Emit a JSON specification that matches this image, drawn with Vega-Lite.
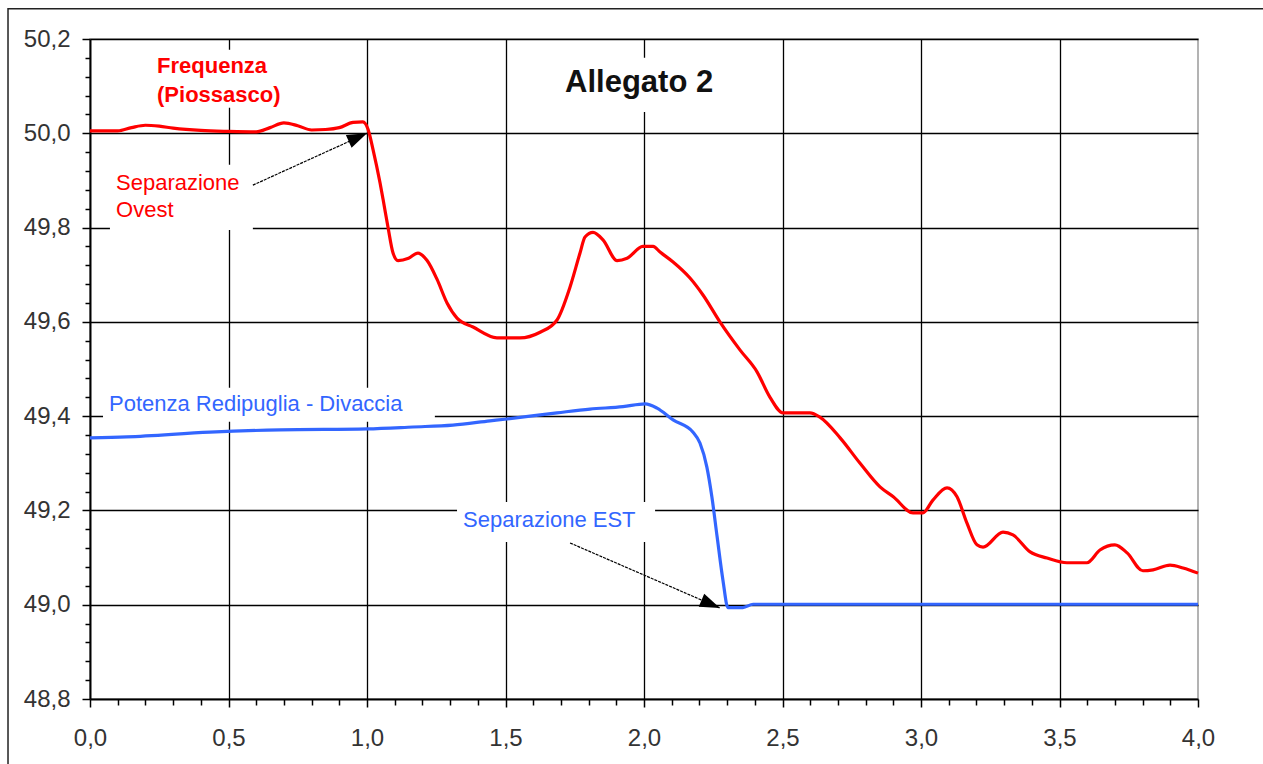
{
  "$schema": "https://vega.github.io/schema/vega-lite/v6.json",
  "width": 1108,
  "height": 660,
  "autosize": {"type": "none"},
  "padding": {"left": 90, "top": 39, "right": 65, "bottom": 65},
  "background": "white",
  "config": {
    "font": "Liberation Sans",
    "view": {"stroke": "#9a9a9a", "strokeWidth": 1.5},
    "axis": {
      "title": null,
      "labelFont": "Liberation Sans",
      "labelFontSize": 24,
      "labelColor": "#333333",
      "tickColor": "#000000",
      "domainColor": "#000000",
      "gridColor": "#000000",
      "gridWidth": 1.3,
      "gridOpacity": 1,
      "labelFlush": false,
      "labelOverlap": false,
      "labelBound": false
    }
  },
  "resolve": {"axis": {"x": "independent", "y": "independent"}},
  "layer": [
    {
      "data": {"values": [{"x": -0.296, "x2": 4.4, "y": 50.264, "y2": 48.649}]},
      "mark": {"type": "rect", "filled": false, "stroke": "#222222", "strokeWidth": 1.5},
      "encoding": {
        "x": {"field": "x", "type": "quantitative", "axis": null, "scale": {"domain": [0, 4], "nice": false, "zero": false}},
        "x2": {"field": "x2"},
        "y": {"field": "y", "type": "quantitative", "axis": null, "scale": {"domain": [48.8, 50.2], "nice": false, "zero": false}},
        "y2": {"field": "y2"}
      }
    },
    {
      "data": {"values": [
        {"note": "Frequenza", "x": 0.2, "x2": 0.68, "y": 50.177, "y2": 50.054},
        {"note": "Allegato", "x": 1.679, "x2": 2.274, "y": 50.16, "y2": 50.045},
        {"note": "Ovest", "x": 0.072, "x2": 0.588, "y": 49.933, "y2": 49.795},
        {"note": "Potenza", "x": 0.047, "x2": 1.245, "y": 49.46, "y2": 49.388},
        {"note": "EST", "x": 1.325, "x2": 2.04, "y": 49.218, "y2": 49.133}
      ]},
      "mark": {"type": "rect", "fill": "white", "stroke": null},
      "encoding": {
        "x": {"field": "x", "type": "quantitative",
          "scale": {"domain": [0, 4], "nice": false, "zero": false},
          "axis": {"orient": "bottom", "values": [0.5, 1, 1.5, 2, 2.5, 3, 3.5], "grid": true, "ticks": false, "labels": false, "domain": false}},
        "x2": {"field": "x2"},
        "y": {"field": "y", "type": "quantitative",
          "scale": {"domain": [48.8, 50.2], "nice": false, "zero": false},
          "axis": {"orient": "left", "values": [49.0, 49.2, 49.4, 49.6, 49.8, 50.0, 50.2], "grid": true, "ticks": false, "labels": false, "domain": false}},
        "y2": {"field": "y2"}
      }
    },
    {
      "data": {"values": [
        {"t": 0.0, "v": 49.354}, {"t": 0.133, "v": 49.356}, {"t": 0.433, "v": 49.366},
        {"t": 0.686, "v": 49.371}, {"t": 1.0, "v": 49.373}, {"t": 1.166, "v": 49.377},
        {"t": 1.31, "v": 49.381}, {"t": 1.444, "v": 49.39}, {"t": 1.505, "v": 49.394},
        {"t": 1.686, "v": 49.407}, {"t": 1.805, "v": 49.415}, {"t": 1.924, "v": 49.42},
        {"t": 2.004, "v": 49.426}, {"t": 2.047, "v": 49.417}, {"t": 2.105, "v": 49.392},
        {"t": 2.177, "v": 49.366}, {"t": 2.202, "v": 49.343}, {"t": 2.227, "v": 49.292},
        {"t": 2.245, "v": 49.229}, {"t": 2.264, "v": 49.144}, {"t": 2.285, "v": 49.052},
        {"t": 2.303, "v": 48.994}, {"t": 2.357, "v": 48.994}, {"t": 2.394, "v": 49.001},
        {"t": 3.0, "v": 49.001}, {"t": 4.0, "v": 49.001}
      ]},
      "mark": {"type": "line", "color": "#3366ff", "strokeWidth": 3.2, "interpolate": "monotone"},
      "encoding": {
        "x": {"field": "t", "type": "quantitative",
          "scale": {"domain": [0, 4], "nice": false, "zero": false},
          "axis": {"orient": "bottom", "values": [0, 0.5, 1, 1.5, 2, 2.5, 3, 3.5, 4],
            "labelExpr": "replace(format(datum.value, '.1f'), '.', ',')",
            "grid": false, "tickSize": 8, "tickWidth": 1.5, "labelPadding": 19, "domain": true, "domainWidth": 2}},
        "y": {"field": "v", "type": "quantitative",
          "scale": {"domain": [48.8, 50.2], "nice": false, "zero": false},
          "axis": {"orient": "left", "values": [48.8, 49.0, 49.2, 49.4, 49.6, 49.8, 50.0, 50.2],
            "labelExpr": "replace(format(datum.value, '.1f'), '.', ',')",
            "grid": false, "tickSize": 8, "tickWidth": 1.5, "labelPadding": 12, "domain": true, "domainWidth": 2}}
      }
    },
    {
      "data": {"values": [
        {"t": 0.0, "v": 50.005}, {"t": 0.1, "v": 50.005}, {"t": 0.15, "v": 50.012},
        {"t": 0.2, "v": 50.017}, {"t": 0.25, "v": 50.015}, {"t": 0.3, "v": 50.011},
        {"t": 0.4, "v": 50.006}, {"t": 0.5, "v": 50.004}, {"t": 0.6, "v": 50.003},
        {"t": 0.65, "v": 50.012}, {"t": 0.7, "v": 50.022}, {"t": 0.75, "v": 50.016},
        {"t": 0.8, "v": 50.007}, {"t": 0.85, "v": 50.008}, {"t": 0.9, "v": 50.012},
        {"t": 0.95, "v": 50.023}, {"t": 0.985, "v": 50.024}, {"t": 1.004, "v": 50.008},
        {"t": 1.022, "v": 49.965}, {"t": 1.047, "v": 49.895}, {"t": 1.058, "v": 49.86},
        {"t": 1.076, "v": 49.8}, {"t": 1.094, "v": 49.746}, {"t": 1.112, "v": 49.73},
        {"t": 1.15, "v": 49.735}, {"t": 1.184, "v": 49.746}, {"t": 1.217, "v": 49.73},
        {"t": 1.253, "v": 49.69}, {"t": 1.289, "v": 49.64}, {"t": 1.325, "v": 49.608},
        {"t": 1.383, "v": 49.589}, {"t": 1.469, "v": 49.566}, {"t": 1.552, "v": 49.566},
        {"t": 1.625, "v": 49.578}, {"t": 1.686, "v": 49.604}, {"t": 1.733, "v": 49.674},
        {"t": 1.769, "v": 49.746}, {"t": 1.787, "v": 49.78}, {"t": 1.816, "v": 49.79},
        {"t": 1.852, "v": 49.774}, {"t": 1.903, "v": 49.73}, {"t": 1.939, "v": 49.735},
        {"t": 1.996, "v": 49.76}, {"t": 2.033, "v": 49.76}, {"t": 2.058, "v": 49.748},
        {"t": 2.105, "v": 49.727}, {"t": 2.166, "v": 49.693}, {"t": 2.213, "v": 49.657},
        {"t": 2.274, "v": 49.6}, {"t": 2.347, "v": 49.54}, {"t": 2.408, "v": 49.494},
        {"t": 2.455, "v": 49.44}, {"t": 2.502, "v": 49.407}, {"t": 2.552, "v": 49.407},
        {"t": 2.599, "v": 49.407}, {"t": 2.635, "v": 49.398}, {"t": 2.708, "v": 49.354},
        {"t": 2.78, "v": 49.3}, {"t": 2.852, "v": 49.25}, {"t": 2.9, "v": 49.229},
        {"t": 2.971, "v": 49.195}, {"t": 3.007, "v": 49.195}, {"t": 3.043, "v": 49.222},
        {"t": 3.094, "v": 49.248}, {"t": 3.13, "v": 49.229}, {"t": 3.166, "v": 49.173},
        {"t": 3.202, "v": 49.127}, {"t": 3.224, "v": 49.122}, {"t": 3.296, "v": 49.154},
        {"t": 3.332, "v": 49.148}, {"t": 3.394, "v": 49.112}, {"t": 3.455, "v": 49.099},
        {"t": 3.527, "v": 49.089}, {"t": 3.599, "v": 49.089}, {"t": 3.646, "v": 49.116},
        {"t": 3.7, "v": 49.127}, {"t": 3.744, "v": 49.11}, {"t": 3.801, "v": 49.072},
        {"t": 3.838, "v": 49.074}, {"t": 3.899, "v": 49.084}, {"t": 3.946, "v": 49.078},
        {"t": 4.0, "v": 49.067}
      ]},
      "mark": {"type": "line", "color": "#ff0000", "strokeWidth": 3.2, "interpolate": "monotone"},
      "encoding": {
        "x": {"field": "t", "type": "quantitative",
          "scale": {"domain": [0, 4], "nice": false, "zero": false},
          "axis": {"orient": "bottom",
            "values": [0.1, 0.2, 0.3, 0.4, 0.6, 0.7, 0.8, 0.9, 1.1, 1.2, 1.3, 1.4, 1.6, 1.7, 1.8, 1.9, 2.1, 2.2, 2.3, 2.4, 2.6, 2.7, 2.8, 2.9, 3.1, 3.2, 3.3, 3.4, 3.6, 3.7, 3.8, 3.9],
            "grid": false, "labels": false, "domain": false, "tickSize": 6, "tickWidth": 1.5}},
        "y": {"field": "v", "type": "quantitative",
          "scale": {"domain": [48.8, 50.2], "nice": false, "zero": false},
          "axis": {"orient": "left",
            "values": [48.84, 48.88, 48.92, 48.96, 49.04, 49.08, 49.12, 49.16, 49.24, 49.28, 49.32, 49.36, 49.44, 49.48, 49.52, 49.56, 49.64, 49.68, 49.72, 49.76, 49.84, 49.88, 49.92, 49.96, 50.04, 50.08, 50.12, 50.16],
            "grid": false, "labels": false, "domain": false, "tickSize": 5, "tickWidth": 1.5}}
      }
    },
    {
      "data": {"values": [
        {"x": 0.242, "y": 50.128, "label": "Frequenza"},
        {"x": 0.242, "y": 50.067, "label": "(Piossasco)"}
      ]},
      "mark": {"type": "text", "align": "left", "baseline": "alphabetic", "font": "Liberation Sans", "fontSize": 22, "fontWeight": "bold", "color": "#ff0000"},
      "encoding": {
        "x": {"field": "x", "type": "quantitative", "axis": null, "scale": {"domain": [0, 4], "nice": false, "zero": false}},
        "y": {"field": "y", "type": "quantitative", "axis": null, "scale": {"domain": [48.8, 50.2], "nice": false, "zero": false}},
        "text": {"field": "label"}
      }
    },
    {
      "data": {"values": [
        {"x": 0.094, "y": 49.88, "label": "Separazione"},
        {"x": 0.094, "y": 49.822, "label": "Ovest"}
      ]},
      "mark": {"type": "text", "align": "left", "baseline": "alphabetic", "font": "Liberation Sans", "fontSize": 22, "color": "#ff0000"},
      "encoding": {
        "x": {"field": "x", "type": "quantitative", "axis": null, "scale": {"domain": [0, 4], "nice": false, "zero": false}},
        "y": {"field": "y", "type": "quantitative", "axis": null, "scale": {"domain": [48.8, 50.2], "nice": false, "zero": false}},
        "text": {"field": "label"}
      }
    },
    {
      "data": {"values": [
        {"x": 0.0686, "y": 49.4116, "label": "Potenza Redipuglia - Divaccia"},
        {"x": 1.347, "y": 49.1655, "label": "Separazione EST"}
      ]},
      "mark": {"type": "text", "align": "left", "baseline": "alphabetic", "font": "Liberation Sans", "fontSize": 22, "color": "#3366ff"},
      "encoding": {
        "x": {"field": "x", "type": "quantitative", "axis": null, "scale": {"domain": [0, 4], "nice": false, "zero": false}},
        "y": {"field": "y", "type": "quantitative", "axis": null, "scale": {"domain": [48.8, 50.2], "nice": false, "zero": false}},
        "text": {"field": "label"}
      }
    },
    {
      "data": {"values": [{"x": 1.715, "y": 50.088, "label": "Allegato 2"}]},
      "mark": {"type": "text", "align": "left", "baseline": "alphabetic", "font": "Liberation Sans", "fontSize": 31, "fontWeight": "bold", "color": "#111111"},
      "encoding": {
        "x": {"field": "x", "type": "quantitative", "axis": null, "scale": {"domain": [0, 4], "nice": false, "zero": false}},
        "y": {"field": "y", "type": "quantitative", "axis": null, "scale": {"domain": [48.8, 50.2], "nice": false, "zero": false}},
        "text": {"field": "label"}
      }
    },
    {
      "data": {"values": [
        {"x": 0.588, "y": 49.89, "tx": 1.0, "ty": 50.0},
        {"x": 1.733, "y": 49.131, "tx": 2.274, "ty": 48.993}
      ]},
      "mark": {"type": "rule", "color": "#000000", "strokeWidth": 1.2, "strokeDash": [3, 1]},
      "encoding": {
        "x": {"field": "x", "type": "quantitative", "axis": null, "scale": {"domain": [0, 4], "nice": false, "zero": false}},
        "y": {"field": "y", "type": "quantitative", "axis": null, "scale": {"domain": [48.8, 50.2], "nice": false, "zero": false}},
        "x2": {"field": "tx"},
        "y2": {"field": "ty"}
      }
    },
    {
      "data": {"values": [{"tx": 1.0, "ty": 50.0}]},
      "mark": {"type": "point", "shape": "M0,0L-0.7,2L0.7,2Z", "filled": true, "color": "#000000", "opacity": 1, "size": 400, "angle": 66},
      "encoding": {
        "x": {"field": "tx", "type": "quantitative", "axis": null, "scale": {"domain": [0, 4], "nice": false, "zero": false}},
        "y": {"field": "ty", "type": "quantitative", "axis": null, "scale": {"domain": [48.8, 50.2], "nice": false, "zero": false}}
      }
    },
    {
      "data": {"values": [{"tx": 2.274, "ty": 48.993}]},
      "mark": {"type": "point", "shape": "M0,0L-0.7,2L0.7,2Z", "filled": true, "color": "#000000", "opacity": 1, "size": 400, "angle": 113},
      "encoding": {
        "x": {"field": "tx", "type": "quantitative", "axis": null, "scale": {"domain": [0, 4], "nice": false, "zero": false}},
        "y": {"field": "ty", "type": "quantitative", "axis": null, "scale": {"domain": [48.8, 50.2], "nice": false, "zero": false}}
      }
    }
  ]
}
